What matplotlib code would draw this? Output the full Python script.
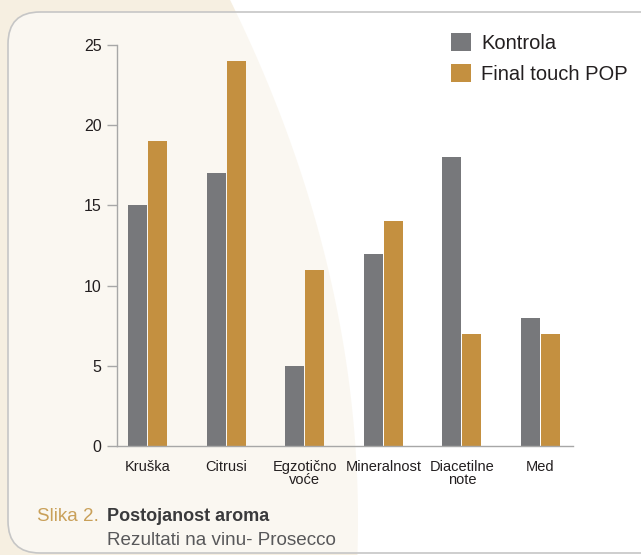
import matplotlib
matplotlib.use("Agg")
import matplotlib.pyplot as plt
import numpy as np
from matplotlib.patches import Polygon, FancyBboxPatch

plt.rcParams['font.family'] = ['Liberation Sans', 'DejaVu Sans']

categories = ["Kruška", "Citrusi", "Egzotično\nvoće", "Mineralnost", "Diacetilne\nnote", "Med"]
kontrola = [15, 17, 5, 12, 18, 8]
final_touch = [19, 24, 11, 14, 7, 7]
series_names = ["Kontrola", "Final touch POP"]
yticks = [0, 5, 10, 15, 20, 25]

GREY = "#77787b"
GOLD = "#c49040"
TEXT = "#231f20"
AXC = "#a7a7a7"

W, H = 641, 555
fig = plt.figure(figsize=(W / 100, H / 100), dpi=100)
fig.patch.set_facecolor("white")

# background decoration axes in pixel coords
bg = fig.add_axes([0, 0, 1, 1], zorder=0)
bg.set_xlim(0, W)
bg.set_ylim(H, 0)
bg.axis("off")
ys = np.linspace(0, H, 120)
xs = 358 - 4.73e-4 * (ys - 520) ** 2
shape = np.vstack([np.column_stack([xs, ys]), [[0, H], [0, 0]]])
bg.add_patch(Polygon(shape, closed=True, facecolor="#f6efe1", edgecolor="none"))
bg.add_patch(FancyBboxPatch((8, 12), 700, 541, boxstyle="round,pad=0,rounding_size=32",
                            facecolor="white", alpha=0.55, edgecolor="none"))
bg.add_patch(FancyBboxPatch((8, 12), 700, 541, boxstyle="round,pad=0,rounding_size=32",
                            facecolor="none", edgecolor="#c6c6c6", linewidth=1.2))

# chart axes
ax = fig.add_axes([117 / W, 109 / H, 456 / W, 401 / H], zorder=1)
ax.patch.set_alpha(0)
x = np.arange(len(categories))
bw = 0.242
off = 0.127
b1 = ax.bar(x - off, kontrola, bw, color=GREY, label=series_names[0])
b2 = ax.bar(x + off, final_touch, bw, color=GOLD, label=series_names[1])
ax.set_xlim(-0.388, 5.413)
ax.set_ylim(0, 25)
ax.set_yticks(yticks)
ax.set_yticklabels([str(v) for v in yticks])
ax.set_xticks(x)
ax.set_xticklabels(categories, linespacing=0.95)
for s in ["top", "right"]:
    ax.spines[s].set_visible(False)
for s in ["left", "bottom"]:
    ax.spines[s].set_color(AXC)
    ax.spines[s].set_linewidth(1.0)
ax.tick_params(axis="y", length=7.2, width=1.0, color=AXC, labelsize=11.5, labelcolor=TEXT, pad=4)
ax.tick_params(axis="x", length=0, labelsize=10.5, labelcolor=TEXT, pad=10)

leg = ax.legend(handles=[b1, b2], loc="upper left", bbox_to_anchor=(451 / W, 1 - 33 / H),
                bbox_transform=fig.transFigure, frameon=False, fontsize=14.5,
                handlelength=1.0, handleheight=1.0, handletextpad=0.5, labelspacing=0.55,
                borderpad=0, borderaxespad=0)
for t in leg.get_texts():
    t.set_color(TEXT)

fig.text(37 / W, 1 - 521 / H, "Slika 2.", color="#c9a059", fontsize=13.6, va="baseline", ha="left")
fig.text(107 / W, 1 - 521 / H, "Postojanost aroma", color="#3a3a3c", fontsize=13,
         fontweight="bold", va="baseline", ha="left")
fig.text(107 / W, 1 - 545 / H, "Rezultati na vinu- Prosecco", color="#58585a", fontsize=13.6,
         va="baseline", ha="left")

fig.savefig("out.png", dpi=100, facecolor=fig.get_facecolor())
